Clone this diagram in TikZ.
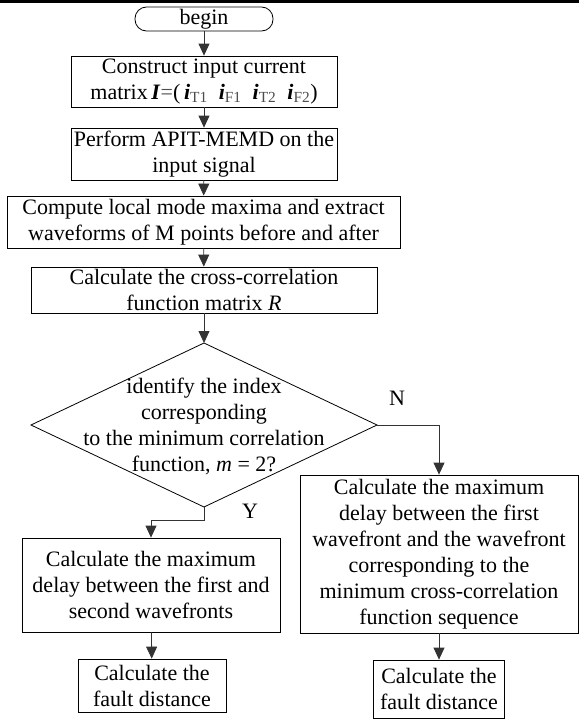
\documentclass[tikz,border=0pt]{standalone}
\usepackage{fontspec}
\setmainfont{Liberation Serif}
\usetikzlibrary{arrows.meta}
\begin{document}
\begin{tikzpicture}[x=1pt,y=-1pt,
  box/.style={draw=black, line width=0.8pt, align=center, inner sep=0pt, font=\fontsize{22}{26}\selectfont},
  conn/.style={draw=black!80, line width=0.8pt, -{Triangle[length=12pt,width=11pt]}},
  lbl/.style={font=\fontsize{22}{26}\selectfont, inner sep=0pt}]
\useasboundingbox (0,0) rectangle (579,720);
\fill[black] (0,0) rectangle (579,2.6);
% nodes
\node[box, rounded corners=11.5pt, minimum width=138pt, minimum height=24pt] (begin) at (204,19) {begin};
\node[box, minimum width=266pt, minimum height=51pt] (b1) at (204,81.5)
  {Construct input current\\matrix\,\textbf{\textit{I}}{\color{black!70}=}(\,\textbf{\textit{i}}{\color{black!70}\textsubscript{T1}}\enspace
   \textbf{\textit{i}}{\color{black!70}\textsubscript{F1}}\enspace
   \textbf{\textit{i}}{\color{black!70}\textsubscript{T2}}\enspace
   \textbf{\textit{i}}{\color{black!70}\textsubscript{F2}})};
\node[box, minimum width=266pt, minimum height=52pt] (b2) at (204,154)
  {Perform APIT-MEMD on the\\input signal};
\node[box, minimum width=393pt, minimum height=52pt] (b3) at (203.5,222)
  {Compute local mode maxima and extract\\waveforms of M points before and after};
\node[box, minimum width=346pt, minimum height=46pt] (b4) at (204,290)
  {Calculate the cross-correlation\\function matrix \textit{R}};
% decision diamond
\coordinate (dT) at (204,343);
\coordinate (dR) at (377,425);
\coordinate (dB) at (204,507);
\coordinate (dL) at (31,425);
\draw[line width=0.8pt] (dT) -- (dR) -- (dB) -- (dL) -- cycle;
\node[lbl, align=center] (dq) at (204,426)
  {identify the index\\corresponding\\to the minimum correlation\\function, \textit{m} = 2?};
\node[box, minimum width=258pt, minimum height=94pt] (lbox) at (151,585)
  {Calculate the maximum\\delay between the first and\\second wavefronts};
\node[box, minimum width=278pt, minimum height=158pt] (rbox) at (439,554)
  {Calculate the maximum\\delay between the first\\wavefront and the wavefront\\corresponding to the\\minimum cross-correlation\\function sequence};
\node[box, minimum width=148pt, minimum height=53pt] (lf) at (152,685.5)
  {Calculate the\\fault distance};
\node[box, minimum width=131pt, minimum height=58pt] (rf) at (439,689)
  {Calculate the\\fault distance};
\node[lbl] (nlab) at (397,398) {N};
\node[lbl] (ylab) at (250,511) {Y};
% connectors
\draw[conn] (begin) -- (b1);
\draw[conn] (b1) -- (b2);
\draw[conn] (b2) -- (b3);
\draw[conn] (b3) -- (b4);
\draw[conn] (b4) -- (dT);
\draw[conn] (dR) -| (rbox.north);
\draw[conn] (dB) -- ++(0,13) -| (lbox.north);
\draw[conn] (lbox) -- (lf);
\draw[conn] (rbox) -- (rf);
\end{tikzpicture}
\end{document}
